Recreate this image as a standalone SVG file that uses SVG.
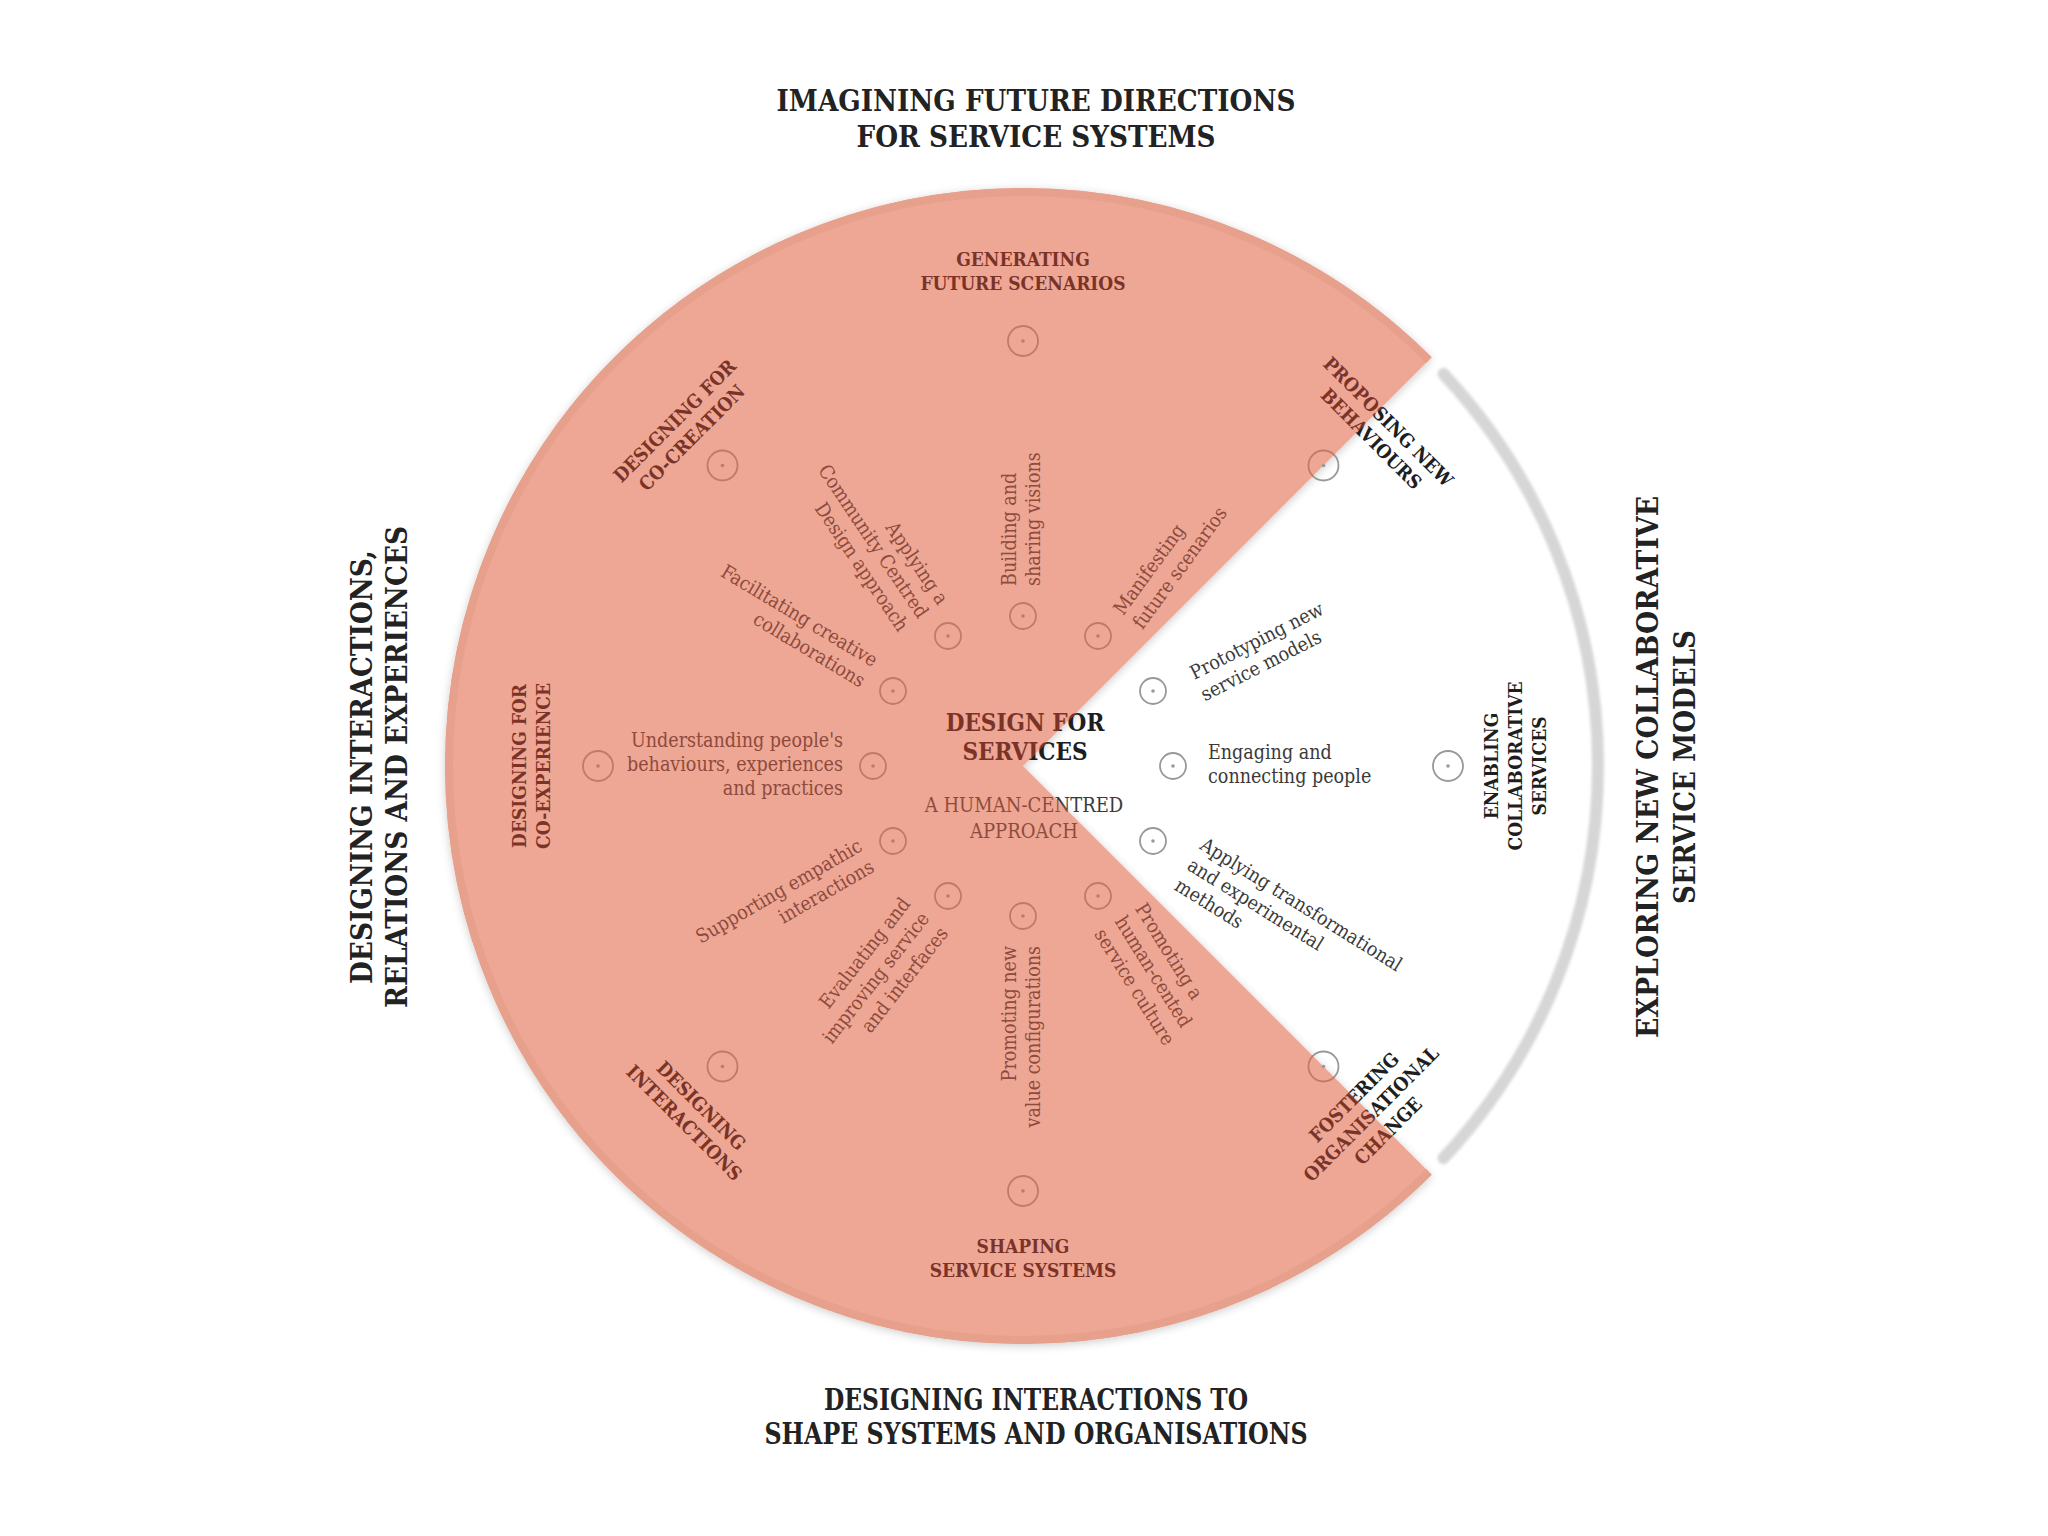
<svg xmlns="http://www.w3.org/2000/svg" width="2048" height="1536" viewBox="0 0 2048 1536">
<defs>
<style>
text{font-family:'DejaVu Serif Condensed','DejaVu Serif',serif;font-stretch:condensed}
.t{font-size:29px;font-weight:bold;fill:#222;text-anchor:middle}
.h{font-size:19px;font-weight:bold;fill:#7B3328;text-anchor:middle}
.hk{fill:#1E1E1E}
.l{font-size:19.5px;fill:#8E4A3D}
.lg{fill:#3A3A3A}
.s{text-anchor:start}
.e{text-anchor:end}
.c1{font-size:24px;font-weight:bold;text-anchor:middle}
.c2{font-size:20px;text-anchor:middle}
.dp{fill:none;stroke:#C07A69;stroke-width:1.8}
.dpc{fill:#C07A69}
.dw{fill:none;stroke:#999999;stroke-width:1.8}
.dwc{fill:#999999}
</style>
<linearGradient id="gUB" gradientUnits="userSpaceOnUse" x1="1023" y1="766" x2="1023.7071" y2="766.7071"><stop offset="0" stop-color="#7B3328"/><stop offset="1" stop-color="#1E1E1E"/></linearGradient>
<linearGradient id="gLR" gradientUnits="userSpaceOnUse" x1="1023" y1="766" x2="1023.7071" y2="765.2929"><stop offset="0" stop-color="#8E4A3D"/><stop offset="1" stop-color="#3A3A3A"/></linearGradient>
<linearGradient id="gUB45" gradientUnits="userSpaceOnUse" x1="1023" y1="766" x2="1023.7071" y2="766.7071" gradientTransform="rotate(-45) translate(-1380,-430)"><stop offset="0" stop-color="#7B3328"/><stop offset="1" stop-color="#1E1E1E"/></linearGradient>
<linearGradient id="gLBm45" gradientUnits="userSpaceOnUse" x1="1023" y1="766" x2="1023.7071" y2="765.2929" gradientTransform="rotate(45) translate(-1370.9,-1113.9)"><stop offset="0" stop-color="#7B3328"/><stop offset="1" stop-color="#1E1E1E"/></linearGradient>
<linearGradient id="gUD" gradientUnits="userSpaceOnUse" x1="1023" y1="766" x2="1023.7071" y2="766.7071"><stop offset="0" stop-color="#C07A69"/><stop offset="1" stop-color="#999999"/></linearGradient>
<linearGradient id="gLD" gradientUnits="userSpaceOnUse" x1="1023" y1="766" x2="1023.7071" y2="765.2929"><stop offset="0" stop-color="#C07A69"/><stop offset="1" stop-color="#999999"/></linearGradient>
<filter id="sh" x="-10%" y="-10%" width="120%" height="120%"><feGaussianBlur in="SourceAlpha" stdDeviation="5"/><feOffset dy="2"/><feComponentTransfer><feFuncA type="linear" slope="0.2"/></feComponentTransfer><feMerge><feMergeNode/><feMergeNode in="SourceGraphic"/></feMerge></filter>
<filter id="bl" x="-10%" y="-10%" width="120%" height="120%"><feGaussianBlur stdDeviation="1.8"/></filter>
</defs>
<rect width="2048" height="1536" fill="#FFFFFF"/>

<g id="background">
<path d="M1023,766 L1431.7,357.3 A578,578 0 1,0 1431.7,1174.7 Z" fill="#EDA794" filter="url(#sh)"/>
<path d="M1428.9,360.1 A574,574 0 1,0 1428.9,1171.9" fill="none" stroke="#E6A08C" stroke-width="8"/>
<path d="M1443.5,373.8 A575,575 0 0,1 1443.5,1158.2" fill="none" stroke="#D6D6D6" stroke-width="12" stroke-linecap="round" filter="url(#bl)"/>
</g>

<g id="titles">
<text class="t" x="1036" y="111" textLength="519" lengthAdjust="spacingAndGlyphs">IMAGINING FUTURE DIRECTIONS</text>
<text class="t" x="1036" y="147" textLength="359" lengthAdjust="spacingAndGlyphs">FOR SERVICE SYSTEMS</text>
<text class="t" x="1036" y="1410" textLength="424" lengthAdjust="spacingAndGlyphs">DESIGNING INTERACTIONS TO</text>
<text class="t" x="1036" y="1444" textLength="543" lengthAdjust="spacingAndGlyphs">SHAPE SYSTEMS AND ORGANISATIONS</text>
<text class="t" transform="translate(372,767) rotate(-90)" x="0" y="0" textLength="434" lengthAdjust="spacingAndGlyphs">DESIGNING INTERACTIONS,</text>
<text class="t" transform="translate(407,767) rotate(-90)" x="0" y="0" textLength="482" lengthAdjust="spacingAndGlyphs">RELATIONS AND EXPERIENCES</text>
<text class="t" transform="translate(1658,767) rotate(-90)" x="0" y="0" textLength="542" lengthAdjust="spacingAndGlyphs">EXPLORING NEW COLLABORATIVE</text>
<text class="t" transform="translate(1695,767) rotate(-90)" x="0" y="0" textLength="274" lengthAdjust="spacingAndGlyphs">SERVICE MODELS</text>
</g>

<g id="center">
<text class="c1" x="1025" y="731" fill="url(#gUB)">DESIGN FOR</text>
<text class="c1" x="1025" y="760" fill="url(#gUB)">SERVICES</text>
<text class="c2" x="1024" y="812" fill="url(#gLR)">A HUMAN-CENTRED</text>
<text class="c2" x="1024" y="838" fill="url(#gLR)">APPROACH</text>
</g>

<g id="outer-dots">
<g class="dp"><circle cx="1023" cy="341" r="15"/><circle cx="722.5" cy="465.5" r="15"/><circle cx="598" cy="766" r="15"/><circle cx="722.5" cy="1066.5" r="15"/><circle cx="1023" cy="1191" r="15"/></g>
<g class="dpc"><circle cx="1023" cy="341" r="1.8"/><circle cx="722.5" cy="465.5" r="1.8"/><circle cx="598" cy="766" r="1.8"/><circle cx="722.5" cy="1066.5" r="1.8"/><circle cx="1023" cy="1191" r="1.8"/></g>
<circle cx="1448" cy="766" r="15" class="dw"/><circle cx="1448" cy="766" r="1.8" class="dwc"/>
<circle cx="1323.5" cy="465.5" r="15" fill="none" stroke="url(#gUD)" stroke-width="1.8"/><circle cx="1323.5" cy="465.5" r="1.8" fill="#999999"/>
<circle cx="1323.5" cy="1066.5" r="15" fill="none" stroke="url(#gLD)" stroke-width="1.8"/><circle cx="1323.5" cy="1066.5" r="1.8" fill="#999999"/>
</g>

<g id="inner-dots">
<g class="dp"><circle cx="1023" cy="616" r="13"/><circle cx="948" cy="636" r="13"/><circle cx="1098" cy="636" r="13"/><circle cx="893" cy="691" r="13"/><circle cx="873" cy="766" r="13"/><circle cx="893" cy="841" r="13"/><circle cx="948" cy="896" r="13"/><circle cx="1023" cy="916" r="13"/><circle cx="1098" cy="896" r="13"/></g>
<g class="dpc"><circle cx="1023" cy="616" r="1.8"/><circle cx="948" cy="636" r="1.8"/><circle cx="1098" cy="636" r="1.8"/><circle cx="893" cy="691" r="1.8"/><circle cx="873" cy="766" r="1.8"/><circle cx="893" cy="841" r="1.8"/><circle cx="948" cy="896" r="1.8"/><circle cx="1023" cy="916" r="1.8"/><circle cx="1098" cy="896" r="1.8"/></g>
<g class="dw"><circle cx="1153" cy="691" r="13"/><circle cx="1173" cy="766" r="13"/><circle cx="1153" cy="841" r="13"/></g>
<g class="dwc"><circle cx="1153" cy="691" r="1.8"/><circle cx="1173" cy="766" r="1.8"/><circle cx="1153" cy="841" r="1.8"/></g>
</g>

<g id="generating-future-scenarios" transform="translate(1023,271)"><text class="h"><tspan x="0" y="-5">GENERATING</tspan><tspan x="0" y="19">FUTURE SCENARIOS</tspan></text></g>
<g id="designing-for-co-creation" transform="translate(683,429) rotate(-45)"><text class="h"><tspan x="0" y="-5">DESIGNING FOR</tspan><tspan x="0" y="19">CO-CREATION</tspan></text></g>
<g id="proposing-new-behaviours" transform="translate(1380,430) rotate(45)"><text class="h" style="fill:url(#gUB45)"><tspan x="0" y="-5">PROPOSING NEW</tspan><tspan x="0" y="19">BEHAVIOURS</tspan></text></g>
<g id="designing-for-co-experience" transform="translate(531,766) rotate(-90)"><text class="h"><tspan x="0" y="-5">DESIGNING FOR</tspan><tspan x="0" y="19">CO-EXPERIENCE</tspan></text></g>
<g id="enabling-collaborative-services" transform="translate(1515,766) rotate(-90)"><text class="h hk"><tspan x="0" y="-17">ENABLING</tspan><tspan x="0" y="7">COLLABORATIVE</tspan><tspan x="0" y="31">SERVICES</tspan></text></g>
<g id="designing-interactions" transform="translate(693,1114) rotate(45)"><text class="h"><tspan x="0" y="-5">DESIGNING</tspan><tspan x="0" y="19">INTERACTIONS</tspan></text></g>
<g id="fostering-organisational-change" transform="translate(1370.9,1113.9) rotate(-45)"><text class="h" style="fill:url(#gLBm45)"><tspan x="0" y="-17">FOSTERING</tspan><tspan x="0" y="7">ORGANISATIONAL</tspan><tspan x="0" y="31">CHANGE</tspan></text></g>
<g id="shaping-service-systems" transform="translate(1023,1258)"><text class="h"><tspan x="0" y="-5">SHAPING</tspan><tspan x="0" y="19">SERVICE SYSTEMS</tspan></text></g>

<g id="building" transform="translate(1023,766) rotate(-90)"><text class="l s"><tspan x="180" y="-7">Building and</tspan><tspan x="180" y="17">sharing visions</tspan></text></g>
<g id="manifesting" transform="translate(1023,766) rotate(-54)"><text class="l s"><tspan x="180" y="-7">Manifesting</tspan><tspan x="180" y="17">future scenarios</tspan></text></g>
<g id="prototyping" transform="translate(1037,768) rotate(-27)"><text class="l lg s"><tspan x="180" y="-7">Prototyping new</tspan><tspan x="180" y="17">service models</tspan></text></g>
<g id="engaging" transform="translate(1028,766)"><text class="l lg s"><tspan x="180" y="-7">Engaging and</tspan><tspan x="180" y="17">connecting people</tspan></text></g>
<g id="applying-transformational" transform="translate(1036,769) rotate(32)"><text class="l lg s"><tspan x="180" y="-19">Applying transformational</tspan><tspan x="180" y="5">and experimental</tspan><tspan x="180" y="29">methods</tspan></text></g>
<g id="promoting-human-centered" transform="translate(1023,766) rotate(58)"><text class="l s"><tspan x="180" y="-19">Promoting a</tspan><tspan x="180" y="5">human-cented</tspan><tspan x="180" y="29">service culture</tspan></text></g>
<g id="promoting-value" transform="translate(1023,766) rotate(-90)"><text class="l e"><tspan x="-180" y="-7">Promoting new</tspan><tspan x="-180" y="17">value configurations</tspan></text></g>
<g id="evaluating" transform="translate(1037,774) rotate(-52)"><text class="l e"><tspan x="-180" y="-19">Evaluating and</tspan><tspan x="-180" y="5">improving service</tspan><tspan x="-180" y="29">and interfaces</tspan></text></g>
<g id="supporting" transform="translate(1023,766) rotate(-30)"><text class="l e"><tspan x="-180" y="-7">Supporting empathic</tspan><tspan x="-180" y="17">interactions</tspan></text></g>
<g id="understanding" transform="translate(1023,766)"><text class="l e"><tspan x="-180" y="-19">Understanding people's</tspan><tspan x="-180" y="5">behaviours, experiences</tspan><tspan x="-180" y="29">and practices</tspan></text></g>
<g id="facilitating" transform="translate(1023,766) rotate(31)"><text class="l e"><tspan x="-180" y="-7">Facilitating creative</tspan><tspan x="-180" y="17">collaborations</tspan></text></g>
<g id="applying-ccd" transform="translate(1023,766) rotate(56)"><text class="l e"><tspan x="-180" y="-19">Applying a</tspan><tspan x="-180" y="5">Community Centred</tspan><tspan x="-180" y="29">Design approach</tspan></text></g>
</svg>
